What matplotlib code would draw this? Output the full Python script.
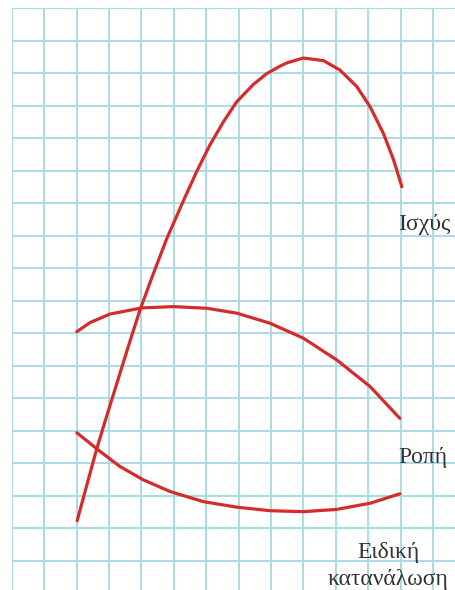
import matplotlib.pyplot as plt
import numpy as np

# curves, in grid squares (x right, y up)
power_x = [2.02, 2.31, 2.62, 2.93, 3.19, 3.60, 3.96, 4.32, 4.78, 5.30, 5.71, 6.12, 6.53, 6.94,
           7.46, 7.87, 8.28, 8.49, 9.00, 9.62, 10.13, 10.65, 11.06, 11.47, 11.78, 12.04]
power_y = [2.23, 3.30, 4.43, 5.45, 6.28, 7.60, 8.72, 9.70, 10.90, 12.08, 12.98, 13.80, 14.50, 15.12,
           15.66, 15.99, 16.22, 16.32, 16.47, 16.39, 16.10, 15.59, 14.97, 14.15, 13.35, 12.51]

torque_x = [2.01, 2.42, 3.03, 4.01, 4.99, 6.02, 6.94, 7.97, 9.00, 10.03, 11.06, 11.98]
torque_y = [8.05, 8.33, 8.59, 8.78, 8.82, 8.77, 8.62, 8.31, 7.85, 7.18, 6.36, 5.38]

sfc_x = [2.01, 2.67, 3.34, 4.06, 4.89, 5.91, 6.94, 7.97, 9.00, 10.03, 11.06, 11.98]
sfc_y = [4.94, 4.41, 3.90, 3.49, 3.13, 2.82, 2.65, 2.54, 2.51, 2.58, 2.77, 3.06]

labels = ['Ισχύς', 'Ροπή', 'Ειδική', 'κατανάλωση']
label_x = [12.73, 12.69, 11.62, 11.62]
label_y = [11.36, 4.19, 1.24, 0.41]

red = '#d42b2b'
grid_col = '#a9dbe6'

fig = plt.figure(figsize=(4.55, 5.9), dpi=100)
ax = fig.add_axes([11.7/455, 0, 1 - 11.7/455, 1 - 8.3/590])
ax.set_xlim(0, 13.68)
ax.set_ylim(0.1, 18)
for v in range(0, 14):
    ax.axvline(v, color=grid_col, lw=1.4, zorder=1)
for h in range(1, 19):
    ax.axhline(h, color=grid_col, lw=1.4, zorder=1)

for xs, ys in [(power_x, power_y), (torque_x, torque_y), (sfc_x, sfc_y)]:
    ax.plot(xs, ys, color=red, lw=2.3, solid_capstyle='round',
            solid_joinstyle='round', zorder=3)

for t, x, y in zip(labels, label_x, label_y):
    ax.text(x, y, t, ha='center', va='center', fontsize=17, color='#333333',
            family='Liberation Serif', zorder=4, clip_on=False)

for s in ax.spines.values():
    s.set_visible(False)
ax.set_xticks([])
ax.set_yticks([])
fig.savefig('out.png', dpi=100)
